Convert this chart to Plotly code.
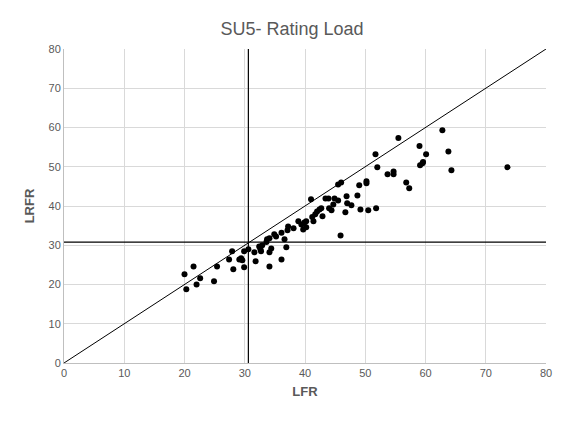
import plotly.graph_objects as go

lfr = [20.0,20.3,21.5,22.0,22.6,24.9,25.4,27.4,27.9,28.1,29.1,29.4,29.6,29.9,29.9,30.6,31.6,31.8,32.4,32.6,32.7,32.9,33.6,33.7,34.1,34.1,34.1,34.4,34.9,35.2,36.1,36.1,36.6,36.9,37.1,37.2,38.1,38.9,39.4,39.7,39.9,40.2,40.2,41.0,41.2,41.4,41.7,42.0,42.4,42.7,42.9,43.4,43.9,44.0,44.4,44.7,44.9,45.5,45.5,45.9,46.0,46.7,46.9,47.0,47.7,48.7,49.0,49.2,50.2,50.2,50.5,51.7,51.8,52.0,53.7,54.7,54.7,55.5,56.8,57.3,59.0,59.1,59.5,59.6,60.1,62.8,63.8,64.3,73.6]
lrfr = [22.6,18.8,24.6,20.0,21.6,20.8,24.6,26.4,28.5,23.9,26.4,26.7,26.2,24.4,28.5,29.0,28.2,25.9,29.7,29.0,28.5,30.0,30.8,31.5,31.8,28.2,24.6,29.2,32.8,32.2,33.2,26.4,31.5,29.5,33.8,34.8,34.3,36.1,35.3,34.0,35.8,36.1,34.6,41.7,37.2,36.1,37.9,38.6,39.1,39.4,37.4,41.9,41.9,39.4,38.9,40.4,41.9,41.4,45.5,32.5,46.0,38.4,42.5,40.7,40.2,42.7,45.3,39.1,46.3,45.8,38.9,53.2,39.4,49.9,48.1,48.8,48.1,57.3,46.0,44.5,55.3,50.4,50.9,51.2,53.2,59.3,53.9,49.1,49.9]
ref_x = 30.6
ref_y = 30.8

fig = go.Figure()
fig.add_trace(go.Scatter(x=[0, 80], y=[0, 80], mode="lines", line=dict(color="black", width=1), hoverinfo="skip"))
fig.add_trace(go.Scatter(x=[ref_x, ref_x], y=[0, 80], mode="lines", line=dict(color="black", width=1.2), hoverinfo="skip"))
fig.add_trace(go.Scatter(x=[0, 80], y=[ref_y, ref_y], mode="lines", line=dict(color="black", width=1.2), hoverinfo="skip"))
fig.add_trace(go.Scatter(x=lfr, y=lrfr, mode="markers", marker=dict(color="black", size=6)))

ax = dict(range=[0, 80], dtick=10, showgrid=True, gridcolor="#d9d9d9", gridwidth=1,
          zeroline=False, showline=True, linecolor="#bfbfbf", ticks="",
          tickfont=dict(size=11, color="#595959"))
fig.update_layout(
    width=568, height=425, showlegend=False,
    paper_bgcolor="white", plot_bgcolor="white",
    font=dict(family="Liberation Sans, Arial, sans-serif"),
    margin=dict(l=56, r=30, t=41, b=70),
    title=dict(text="SU5- Rating Load", x=0.5, xanchor="center", y=0.965,
               font=dict(size=18, color="#595959")),
    xaxis=dict(ax, title=dict(text="<b>LFR</b>", font=dict(size=13, color="#595959"), standoff=8)),
    yaxis=dict(ax, title=dict(text="<b>LRFR</b>", font=dict(size=13, color="#595959"), standoff=10)),
)
fig.write_html("out.html")
